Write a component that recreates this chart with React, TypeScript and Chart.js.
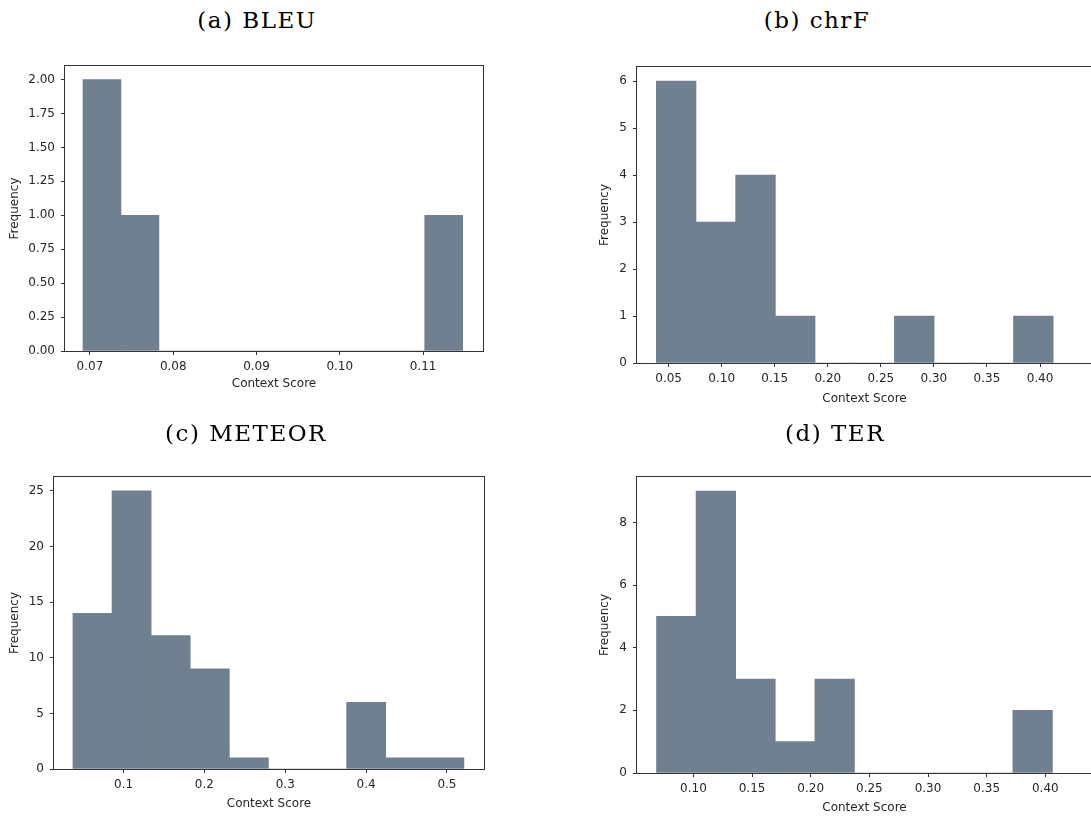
import React, { useEffect, useRef } from "react";
import { Chart, registerables } from "chart.js";

Chart.register(...registerables);

// ---------- data ----------
const panelTitles = ["(a) BLEU", "(b) chrF", "(c) METEOR", "(d) TER"];
const xAxisLabel = "Context Score";
const yAxisLabel = "Frequency";

const bleuEdges = [0.06916, 0.07372, 0.07828, 0.08284, 0.0874, 0.09196, 0.09652, 0.10108, 0.10564, 0.1102, 0.11476];
const bleuCounts = [2, 1, 0, 0, 0, 0, 0, 0, 0, 1];

const chrfEdges = [0.0384, 0.0758, 0.1132, 0.1506, 0.188, 0.2254, 0.2628, 0.3002, 0.3376, 0.375, 0.4124];
const chrfCounts = [6, 3, 4, 1, 0, 0, 1, 0, 0, 1];

const meteorEdges = [0.0374, 0.0858, 0.1341, 0.1825, 0.2308, 0.2792, 0.3276, 0.3759, 0.4243, 0.4726, 0.521];
const meteorCounts = [14, 25, 12, 9, 1, 0, 0, 6, 1, 1];

const terEdges = [0.0685, 0.1023, 0.136, 0.1698, 0.2035, 0.2373, 0.2711, 0.3048, 0.3386, 0.3723, 0.4061];
const terCounts = [5, 9, 3, 1, 3, 0, 0, 0, 0, 2];

// axis ranges and tick steps
const xRanges = [
  [0.067, 0.1172],
  [0.0202, 0.449],
  [0.014, 0.5458],
  [0.0519, 0.4398],
];
const xSteps = [0.01, 0.05, 0.1, 0.05];
const xDecimals = [2, 2, 1, 2];
const yMaxes = [2.1, 6.3, 26.25, 9.45];
const ySteps = [0.25, 1, 5, 2];
const yDecimals = [2, 0, 0, 0];

// ---------- layout ----------
type Geo = { cx: number; cy: number; cw: number; ch: number; wy: number; hx: number; pt: number; pr: number };
const geos: Geo[] = [
  { cx: 8, cy: 40, cw: 530, ch: 351, wy: 57, hx: 40, pt: 26, pr: 55 },
  { cx: 598, cy: 40, cw: 514, ch: 366, wy: 39, hx: 43, pt: 27, pr: 20 },
  { cx: 8, cy: 420, cw: 530, ch: 391, wy: 46, hx: 42, pt: 57, pr: 54 },
  { cx: 598, cy: 420, cw: 514, ch: 395, wy: 39, hx: 42, pt: 57, pr: 20 },
];
const titlePos = [
  { x: 257, top: 9 },
  { x: 817, top: 9 },
  { x: 246, top: 422 },
  { x: 835, top: 422 },
];

const BAR_COLOR = "#708090";
const TEXT_COLOR = "#262626";
const AXIS_COLOR = "#333333";
const tickFont = { family: "'DejaVu Sans', sans-serif", size: 12, lineHeight: 1.2 };

const framePlugin = {
  id: "frame",
  afterDraw(chart: any) {
    const { ctx, chartArea } = chart;
    const l = Math.round(chartArea.left) - 0.5;
    const t = Math.round(chartArea.top) - 0.5;
    const r = Math.round(chartArea.right) + 0.5;
    const b = Math.round(chartArea.bottom) + 0.5;
    ctx.save();
    ctx.strokeStyle = AXIS_COLOR;
    ctx.lineWidth = 1;
    ctx.strokeRect(l, t, r - l, b - t);
    ctx.restore();
  },
};

function Histogram(props: {
  edges: number[];
  counts: number[];
  idx: number;
}) {
  const ref = useRef<HTMLCanvasElement | null>(null);
  const { edges, counts, idx } = props;
  const g = geos[idx];

  useEffect(() => {
    if (!ref.current) return;
    const points = counts.map((c, i) => ({ x: (edges[i] + edges[i + 1]) / 2, y: c }));
    const xd = xDecimals[idx];
    const yd = yDecimals[idx];
    const chart = new Chart(ref.current, {
      type: "bar",
      data: {
        datasets: [
          {
            data: points as any,
            backgroundColor: BAR_COLOR,
            borderWidth: 0,
            barPercentage: 1,
            categoryPercentage: 1,
          },
        ],
      },
      options: {
        animation: false,
        responsive: false,
        maintainAspectRatio: false,
        layout: { padding: { left: 0, top: g.pt, right: g.pr, bottom: 0 } },
        plugins: {
          legend: { display: false },
          tooltip: { enabled: false },
          title: { display: false },
        },
        scales: {
          x: {
            type: "linear",
            min: xRanges[idx][0],
            max: xRanges[idx][1],
            offset: false,
            grid: {
              display: true,
              drawOnChartArea: false,
              drawTicks: true,
              tickLength: 4,
              tickColor: AXIS_COLOR,
              offset: false,
            },
            border: { display: false },
            ticks: {
              stepSize: xSteps[idx],
              includeBounds: false,
              autoSkip: false,
              maxRotation: 0,
              minRotation: 0,
              padding: 5,
              color: TEXT_COLOR,
              font: tickFont,
              callback: (v: any) => Number(v).toFixed(xd),
            },
            title: {
              display: true,
              text: xAxisLabel,
              color: TEXT_COLOR,
              font: tickFont,
              padding: 0,
            },
            afterFit: (s: any) => {
              s.height = g.hx;
            },
          } as any,
          y: {
            type: "linear",
            min: 0,
            max: yMaxes[idx],
            grid: {
              display: true,
              drawOnChartArea: false,
              drawTicks: true,
              tickLength: 4,
              tickColor: AXIS_COLOR,
            },
            border: { display: false },
            ticks: {
              stepSize: ySteps[idx],
              includeBounds: false,
              autoSkip: false,
              padding: 6,
              color: TEXT_COLOR,
              font: tickFont,
              callback: (v: any) => Number(v).toFixed(yd),
            },
            title: {
              display: true,
              text: yAxisLabel,
              color: TEXT_COLOR,
              font: tickFont,
              padding: 0,
            },
            afterFit: (s: any) => {
              s.width = g.wy;
            },
          } as any,
        },
      },
      plugins: [framePlugin],
    });
    return () => chart.destroy();
  }, [edges, counts, idx]);

  return (
    <canvas
      ref={ref}
      width={g.cw}
      height={g.ch}
      style={{ position: "absolute", left: g.cx, top: g.cy, width: g.cw, height: g.ch, display: "block" }}
    />
  );
}

export default function App() {
  const sets = [
    { edges: bleuEdges, counts: bleuCounts },
    { edges: chrfEdges, counts: chrfCounts },
    { edges: meteorEdges, counts: meteorCounts },
    { edges: terEdges, counts: terCounts },
  ];
  return (
    <div
      style={{
        position: "absolute",
        left: 0,
        top: 0,
        width: 1091,
        height: 816,
        overflow: "hidden",
        background: "#ffffff",
      }}
    >
      {sets.map((s, i) => (
        <Histogram key={i} idx={i} edges={s.edges} counts={s.counts} />
      ))}
      {panelTitles.map((t, i) => (
        <div
          key={"t" + i}
          style={{
            position: "absolute",
            left: titlePos[i].x,
            top: titlePos[i].top,
            transform: "translateX(-50%)",
            whiteSpace: "nowrap",
            fontFamily: "'DejaVu Serif', serif",
            fontSize: 23,
            lineHeight: "23px",
            letterSpacing: "1.5px",
            color: "#000",
          }}
        >
          {t}
        </div>
      ))}
    </div>
  );
}
